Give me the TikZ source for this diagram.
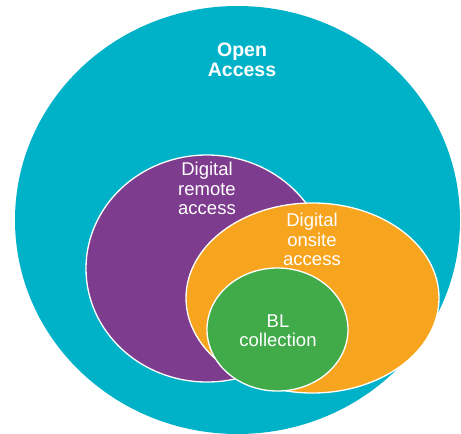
\documentclass[tikz,border=0pt]{standalone}
\usepackage{fontspec}
\setmainfont{Liberation Sans}
\definecolor{teal}{RGB}{0,178,200}
\definecolor{purp}{RGB}{126,60,142}
\definecolor{orng}{RGB}{247,165,30}
\definecolor{grn}{RGB}{65,171,74}
\begin{document}
\begin{tikzpicture}[x=1pt,y=-1pt,
  setshape/.style={draw=white,line width=1.3pt},
  lbl/.style={text=white,align=center,font=\fontsize{18.5}{19.5}\selectfont,inner sep=0pt}]
\useasboundingbox (0,0) rectangle (461,434);
\clip (0,0) rectangle (461,434);
\fill[teal] (237.5,220) ellipse [x radius=222.5, y radius=214];
\path[setshape,fill=purp] (207,268.5) ellipse [x radius=121, y radius=113.5];
\path[setshape,fill=orng] (312.5,298) ellipse [x radius=126.5, y radius=95];
\path[setshape,fill=grn] (277.5,329.5) ellipse [x radius=70.5, y radius=61.5];
\node[lbl,font=\bfseries\fontsize{19.5}{20}\selectfont] (oa) at (242,60) {Open\\Access};
\node[lbl] (dr) at (207,188.5) {Digital\\remote\\access};
\node[lbl] (do) at (312,239.5) {Digital\\onsite\\access};
\node[lbl] (bl) at (278,330.5) {BL\\collection};
\end{tikzpicture}
\end{document}
